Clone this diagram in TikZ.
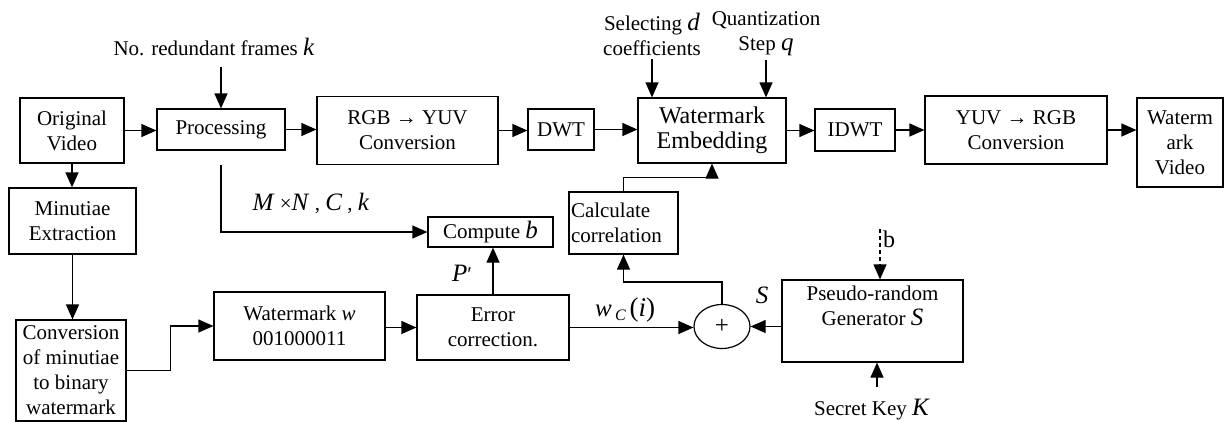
\documentclass[tikz,border=0pt]{standalone}
\usepackage{fontspec}
\setmainfont{Liberation Serif}
\usetikzlibrary{arrows.meta,shapes.geometric}
\newcommand\mv[1]{{\fontsize{25}{25}\selectfont\textit{#1}}}
\begin{document}
\begin{tikzpicture}[x=1pt,y=-1pt,
  font=\fontsize{21}{25}\selectfont,
  blk/.style={draw,line width=1.2pt,align=center,inner sep=2pt},
  arr/.style={line width=1.2pt,-{Triangle[length=15pt,width=13pt]}},
  lbl/.style={inner sep=0pt,align=center}]
\useasboundingbox (0,0) rectangle (1224,421);
% top row
\node[blk,minimum width=104pt,minimum height=65pt] (ov) at (72,130.5) {Original\\Video};
\node[blk,minimum width=128pt,minimum height=41pt] (proc) at (221,129.5) {Processing};
\node[blk,minimum width=181pt,minimum height=68pt] (rgb) at (407.5,130.5) {RGB → YUV\\Conversion};
\node[blk,minimum width=66pt,minimum height=41pt] (dwt) at (561,129.5) {DWT};
\node[blk,minimum width=148pt,minimum height=65pt,font=\fontsize{24}{25}\selectfont] (we) at (712,130.5) {Watermark\\Embedding};
\node[blk,minimum width=80pt,minimum height=42pt] (idwt) at (855,130) {IDWT};
\node[blk,minimum width=182pt,minimum height=68pt] (yuv) at (1016,130) {YUV → RGB\\Conversion};
\node[blk,minimum width=86pt,minimum height=89pt] (wv) at (1180,142.5) {Waterm\\ark\\Video};
% left column
\node[blk,minimum width=127pt,minimum height=66pt] (min) at (72.5,221) {Minutiae\\Extraction};
\node[blk,minimum width=110pt,minimum height=101pt] (conv) at (71,370.5) {Conversion\\of minutiae\\to binary\\watermark};
% middle
\node[blk,minimum width=125pt,minimum height=30pt] (compb) at (490.5,232) {Compute \mv{b}};
\node[blk,text width=105pt,align=left,minimum height=62pt] (calc) at (623.5,223) {Calculate\\correlation};
% bottom row
\node[blk,minimum width=171pt,minimum height=68pt] (wm) at (299.5,326) {Watermark \textit{w}\\001000011};
\node[blk,minimum width=152pt,minimum height=65pt] (ec) at (493,327.5) {Error\\correction.};
\node[draw,line width=1.2pt,ellipse,minimum width=56pt,minimum height=44pt,inner sep=0pt,font=\fontsize{25}{25}\selectfont] (plus) at (722,326.5) {+};
\node[blk,minimum width=181pt,minimum height=82pt,
  label={[anchor=north,align=center,inner sep=1pt,yshift=-5pt]north:Pseudo-random\\Generator \mv{S}}] (prg) at (872.5,321) {};
% texts
\node[lbl] (nrf) at (214,47) {No. redundant frames \mv{k}};
\node[lbl] (sel) at (652,34) {Selecting \mv{d}\\coefficients};
\node[lbl] (quant) at (766,34) {Quantization\\Step \mv{q}};
\node[lbl] (mnck) at (311,203) {\mv{M} ×\mv{N} , \mv{C} , \mv{k}};
\node[lbl] (pp) at (462,273) {\mv{P}′};
\node[lbl] (wci) at (625,310) {\mv{w}\,\raisebox{-0.4ex}{\fontsize{16}{16}\selectfont\textit{C}}\,{\fontsize{27}{27}\selectfont(\textit{i})}};
\node[lbl] (slbl) at (762,295) {\mv{S}};
\node[lbl] (blbl) at (889,239) {\fontsize{24}{24}\selectfont b};
\node[lbl] (sk) at (872,410) {Secret Key \mv{K}};
\coordinate (bin) at (880,229);
\coordinate (skin) at (877,387);
% connectors
\draw[arr] (ov.east) -- (ov.east -| proc.west);
\draw[arr] (proc.east) -- (proc.east -| rgb.west);
\draw[arr] (rgb.east) -- (rgb.east -| dwt.west);
\draw[arr] (dwt.east) -- (dwt.east -| we.west);
\draw[arr] (we.east) -- (we.east -| idwt.west);
\draw[arr] (idwt.east) -- (idwt.east -| yuv.west);
\draw[arr] (yuv.east) -- (yuv.east -| wv.west);
\draw[arr] (proc.north) ++(0,-41) -- (proc.north);
\draw[arr] (sel.south) ++(0,4) -- (sel.south |- we.north);
\draw[arr] (quant.south) ++(0,4) -- (quant.south |- we.north);
\draw[arr] (ov.south) -- (ov.south |- min.north);
\draw[arr] (min.south) -- (min.south |- conv.north);
\path (proc.south) ++(0,14) coordinate (ps);
\draw[arr] (ps) |- (compb.west);
\draw[arr] (conv.east) -- ++(44,0) |- (wm.west);
\draw[arr] (ec.west -| wm.east) -- (ec.west);
\draw[arr] (ec.east) -- (ec.east -| plus.west);
\draw[arr] (prg.west |- plus.east) -- (plus.east);
\draw[arr] (ec.north) -- (ec.north |- compb.south);
\draw[arr] (plus.north) -- ++(0,-22) -| (calc.south);
\draw[arr] (calc.north) -- ++(0,-14) -| (we.south);
\draw[arr,dash pattern=on 4pt off 3pt] (bin) -- (bin |- prg.north);
\draw[arr] (skin) -- (skin |- prg.south);
\end{tikzpicture}
\end{document}
